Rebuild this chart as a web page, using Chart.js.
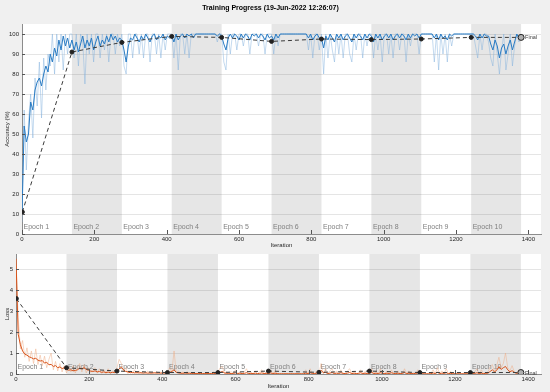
<!DOCTYPE html>
<html>
<head>
<meta charset="utf-8">
<script src="https://cdn.jsdelivr.net/npm/chart.js@4"></script>
<style>
html, body { margin: 0; padding: 0; background: #f0f0f0; }
#wrap { position: relative; width: 550px; height: 392px; overflow: hidden; }
.box { position: absolute; left: 0; width: 550px; }
</style>
</head>
<body>
<div id="wrap">
  <div class="box" style="top:0;height:250px"><canvas id="accChart" width="550" height="250"></canvas></div>
  <div class="box" style="top:247px;height:145px"><canvas id="lossChart" width="550" height="145"></canvas></div>
</div>
<script>
// training iterations are logged every 6 iterations (0..1380)
const STEP = 6;
const epochEdges = [0, 138, 276, 414, 552, 690, 828, 966, 1104, 1242, 1380];
const epochNames = ['Epoch 1','Epoch 2','Epoch 3','Epoch 4','Epoch 5','Epoch 6','Epoch 7','Epoch 8','Epoch 9','Epoch 10'];
const iterTicks = [0, 200, 400, 600, 800, 1000, 1200, 1400];

const accSmooth = [
  10,54,46,50,66,62,72,76,78,74,80,84,81,90,86,93,89,97,92,99,94,98,93,
  97,92,96,91,95,99,93,97,94,98,92,96,99,94,97,95,99,96,100,97,99,96,98,
  97,92,86,94,98,97,100,98,96,99,97,100,98,96,99,100,97,99,98,100,97,99,98,
  99,96,100,97,99,100,98,100,99,100,98,100,100,100,100,100,100,100,100,100,100,99,100,
  99,95,92,98,100,98,100,99,97,100,98,100,99,97,100,99,100,98,100,99,97,100,98,
  99,97,100,98,100,100,100,100,100,100,100,100,100,100,100,100,100,98,100,97,99,100,98,
  98,93,99,97,100,98,96,100,98,100,97,99,100,98,96,100,98,100,99,97,100,98,100,
  99,96,100,98,100,97,99,100,98,100,97,99,100,98,100,99,97,100,98,100,99,100,98,
  100,100,100,100,100,100,98,100,97,100,98,99,97,100,99,100,100,100,100,100,100,100,100,
  100,100,99,97,100,98,100,99,99,95,92,97,94,88,93,95,90,94,97,92,96,100,98,99
];
const accRaw = [
  6,62,32,56,70,48,78,64,86,58,88,72,90,84,100,80,100,86,100,82,100,90,100,
  100,88,100,84,100,96,75,100,90,100,86,100,100,88,100,92,100,86,100,100,90,100,94,
  100,84,80,100,100,88,100,100,90,100,88,100,100,86,100,100,90,100,88,100,92,100,100,
  100,88,100,82,100,100,90,100,88,100,100,100,100,100,100,100,100,100,100,100,100,96,100,
  100,86,82,100,90,100,100,92,100,100,94,100,100,90,100,100,100,94,100,100,90,100,100,
  100,90,100,94,100,100,100,100,100,100,100,100,100,100,100,100,100,92,100,88,100,100,92,
  100,80,100,88,100,92,86,100,90,100,88,100,100,90,86,100,92,100,100,88,100,94,100,
  100,88,100,92,100,86,100,100,90,100,88,100,100,92,100,100,86,100,94,100,100,100,90,
  100,100,100,100,100,100,86,100,82,100,90,100,86,100,94,100,100,100,100,100,100,100,100,
  100,100,94,88,100,92,100,100,96,88,84,100,90,80,92,100,82,90,100,84,94,100,96,100
];
const lossSmooth = [
  5.5,1.9,1.4,1.1,0.95,0.9,0.82,0.78,0.72,0.75,0.66,0.62,0.64,0.52,0.56,0.44,0.46,0.36,0.4,0.3,0.34,0.26,0.3,
  0.22,0.18,0.2,0.15,0.17,0.2,0.28,0.25,0.3,0.22,0.18,0.14,0.12,0.15,0.1,0.12,0.08,0.1,0.07,0.09,0.06,0.08,0.07,
  0.1,0.25,0.32,0.2,0.12,0.1,0.06,0.08,0.05,0.07,0.05,0.06,0.04,0.06,0.04,0.05,0.04,0.06,0.04,0.05,0.04,0.05,0.04,
  0.04,0.08,0.12,0.2,0.08,0.05,0.04,0.03,0.05,0.03,0.04,0.02,0.02,0.02,0.02,0.02,0.02,0.02,0.02,0.02,0.02,0.03,0.02,
  0.03,0.08,0.12,0.05,0.03,0.04,0.02,0.03,0.05,0.02,0.04,0.02,0.03,0.06,0.02,0.03,0.02,0.04,0.02,0.03,0.05,0.02,0.03,
  0.02,0.05,0.02,0.04,0.02,0.01,0.01,0.01,0.01,0.01,0.01,0.01,0.01,0.01,0.01,0.01,0.01,0.04,0.02,0.06,0.03,0.02,0.04,
  0.05,0.18,0.06,0.08,0.02,0.04,0.07,0.02,0.04,0.02,0.06,0.03,0.02,0.04,0.07,0.02,0.04,0.02,0.03,0.06,0.02,0.04,0.02,
  0.03,0.08,0.02,0.04,0.02,0.06,0.03,0.02,0.04,0.02,0.06,0.03,0.02,0.04,0.02,0.03,0.07,0.02,0.04,0.02,0.03,0.02,0.05,
  0.02,0.01,0.01,0.01,0.01,0.01,0.05,0.02,0.08,0.02,0.04,0.03,0.06,0.02,0.03,0.01,0.01,0.01,0.01,0.01,0.01,0.01,0.01,
  0.01,0.01,0.03,0.06,0.02,0.04,0.02,0.03,0.04,0.12,0.2,0.1,0.18,0.35,0.22,0.3,0.36,0.2,0.1,0.16,0.08,0.03,0.06,0.04
];
const lossRaw = [
  5.5,2.7,1.2,1.6,0.8,1.25,0.6,1.1,0.5,1.2,0.45,0.9,0.4,0.85,0.3,0.7,1.0,0.2,0.6,0.15,0.5,0.1,0.4,
  0.05,0.35,0.1,0.4,0.05,0.3,0.5,0.1,0.45,0.05,0.3,0.08,0.2,0.3,0.04,0.25,0.03,0.2,0.02,0.25,0.02,0.15,0.05,
  0.3,0.7,0.5,0.1,0.3,0.02,0.15,0.02,0.2,0.01,0.15,0.02,0.12,0.01,0.15,0.02,0.1,0.01,0.12,0.02,0.1,0.01,0.1,
  0.02,0.3,0.1,1.1,0.05,0.15,0.01,0.1,0.02,0.12,0.01,0.05,0.01,0.01,0.02,0.01,0.01,0.02,0.01,0.01,0.01,0.1,0.01,
  0.1,0.3,0.35,0.02,0.1,0.01,0.12,0.01,0.2,0.01,0.1,0.01,0.1,0.25,0.01,0.1,0.01,0.15,0.01,0.1,0.2,0.01,0.1,
  0.01,0.2,0.01,0.15,0.01,0.01,0.01,0.01,0.01,0.01,0.01,0.01,0.01,0.01,0.01,0.01,0.01,0.2,0.01,0.25,0.01,0.01,0.15,
  0.01,0.5,0.02,0.25,0.01,0.15,0.25,0.01,0.15,0.01,0.2,0.01,0.01,0.15,0.25,0.01,0.15,0.01,0.01,0.2,0.01,0.12,0.01,
  0.01,0.25,0.01,0.15,0.01,0.25,0.01,0.01,0.15,0.01,0.2,0.01,0.01,0.15,0.01,0.01,0.25,0.01,0.15,0.01,0.01,0.01,0.2,
  0.01,0.01,0.01,0.01,0.01,0.01,0.2,0.01,0.3,0.01,0.15,0.01,0.25,0.01,0.12,0.01,0.01,0.01,0.01,0.01,0.01,0.01,0.01,
  0.01,0.01,0.12,0.25,0.01,0.2,0.01,0.05,0.1,0.35,0.45,0.1,0.4,0.8,0.3,0.5,1.0,0.3,0.15,0.4,0.1,0.01,0.2,0.05
];

const valIters = [1, 138, 276, 414, 552, 690, 828, 966, 1104, 1242, 1380];
const valAcc = [11, 91, 95.8, 98.8, 98.3, 96.3, 97.5, 97.2, 97.5, 98.3, 98.3];
const valLoss = [3.6, 0.3, 0.14, 0.07, 0.07, 0.14, 0.08, 0.14, 0.07, 0.07, 0.07];

const FONT = 'Liberation Sans, Arial, Helvetica, sans-serif';
const XMAX = 1435;

function pts(ys) { return ys.map((y, i) => ({ x: i * STEP, y })); }
function valPts(ys) { return ys.map((y, i) => ({ x: valIters[i], y })); }

// white axes background, grey bands for every other epoch, epoch labels, inward ticks, "Final"
const epochPlugin = {
  id: 'epochs',
  beforeDraw(chart) {
    const { ctx, chartArea: a, scales: { x } } = chart;
    ctx.save();
    ctx.fillStyle = '#ffffff';
    ctx.fillRect(a.left, a.top, a.right - a.left, a.bottom - a.top);
    ctx.fillStyle = '#e6e6e6';
    for (let e = 1; e < epochEdges.length - 1; e += 2) {
      const x0 = x.getPixelForValue(epochEdges[e]);
      const x1 = x.getPixelForValue(epochEdges[e + 1]);
      ctx.fillRect(x0, a.top, x1 - x0, a.bottom - a.top);
    }
    ctx.restore();
  },
  beforeDatasetsDraw(chart) {
    const { ctx, chartArea: a, scales: { x } } = chart;
    ctx.save();
    ctx.font = '7px ' + FONT;
    ctx.fillStyle = '#808080';
    ctx.textBaseline = 'alphabetic';
    epochNames.forEach((n, i) => {
      ctx.fillText(n, x.getPixelForValue(epochEdges[i]) + 1.5, a.bottom - 5);
    });
    ctx.restore();
  },
  afterDraw(chart) {
    const { ctx, chartArea: a, scales: { x, y } } = chart;
    ctx.save();
    ctx.strokeStyle = '#555';
    ctx.lineWidth = 1;
    ctx.beginPath();
    x.ticks.forEach(t => {
      const px = Math.round(x.getPixelForValue(t.value)) + 0.5;
      ctx.moveTo(px, a.bottom); ctx.lineTo(px, a.bottom - 4);
    });
    y.ticks.forEach(t => {
      const py = Math.round(y.getPixelForValue(t.value)) + 0.5;
      ctx.moveTo(a.left, py); ctx.lineTo(a.left + 3, py);
    });
    ctx.stroke();
    const last = chart.data.datasets[0].data.slice(-1)[0];
    ctx.font = '5.5px ' + FONT;
    ctx.fillStyle = '#404040';
    ctx.textBaseline = 'middle';
    ctx.fillText('Final', x.getPixelForValue(last.x) + 4, y.getPixelForValue(last.y) + 0.5);
    ctx.restore();
  }
};

function makeOpts(cfg) {
  return {
    responsive: false,
    animation: false,
    events: [],
    layout: { padding: { left: 0, right: 9, top: cfg.padTop, bottom: 0 } },
    plugins: {
      legend: { display: false },
      tooltip: { enabled: false },
      title: cfg.title ? {
        display: true, text: cfg.title, color: '#000',
        font: { family: FONT, size: 7, weight: 'bold' },
        padding: { top: 4, bottom: 11.6 }
      } : { display: false }
    },
    scales: {
      x: {
        type: 'linear', min: 0, max: XMAX,
        afterBuildTicks(s) { s.ticks = iterTicks.map(v => ({ value: v })); },
        afterFit(s) { s.height = cfg.xh; },
        ticks: { padding: 2, color: '#262626', font: { family: FONT, size: 6 }, maxRotation: 0, autoSkip: false,
                 callback: v => String(v) },
        grid: { display: false, drawTicks: false },
        border: { display: true, color: '#8c8c8c' },
        title: { display: true, text: 'Iteration', color: '#262626', font: { family: FONT, size: 6 }, padding: { top: 0, bottom: cfg.xtPad } }
      },
      y: {
        min: 0, max: cfg.ymax,
        afterFit(s) { s.width = cfg.yw; },
        ticks: { stepSize: cfg.ystep, includeBounds: false, padding: 3, color: '#262626', font: { family: FONT, size: 6 } },
        grid: { color: 'rgba(38,38,38,0.12)', drawTicks: false },
        border: { display: true, color: '#8c8c8c' },
        title: { display: true, text: cfg.ytitle, color: '#262626', font: { family: FONT, size: 6 }, padding: { top: 4, bottom: 0 } }
      }
    }
  };
}

function lineSet(data, color, width, order) {
  return { data, borderColor: color, borderWidth: width, pointRadius: 0, tension: 0, fill: false, order };
}
function valSet(data) {
  const n = data.length;
  return {
    data, borderColor: '#3a3a3a', borderWidth: 1, borderDash: [4, 3], tension: 0, order: 0,
    pointRadius: data.map((_, i) => i === n - 1 ? 3 : 2),
    pointBackgroundColor: data.map((_, i) => i === n - 1 ? '#b0b0b0' : '#222'),
    pointBorderColor: '#222', pointBorderWidth: 1
  };
}

new Chart(document.getElementById('accChart'), {
  type: 'line',
  data: { datasets: [
    valSet(valPts(valAcc)),
    lineSet(pts(accSmooth), '#2a7cc4', 1, 1),
    lineSet(pts(accRaw), 'rgba(130,178,222,0.6)', 0.8, 2)
  ] },
  options: makeOpts({ title: 'Training Progress (19-Jun-2022 12:26:07)', padTop: 0, xh: 16, yw: 22, xtPad: 1, ymax: 105, ystep: 10, ytitle: 'Accuracy (%)' }),
  plugins: [epochPlugin]
});

new Chart(document.getElementById('lossChart'), {
  type: 'line',
  data: { datasets: [
    valSet(valPts(valLoss)),
    lineSet(pts(lossSmooth), '#d95319', 1, 1),
    lineSet(pts(lossRaw), 'rgba(238,170,130,0.6)', 0.8, 2)
  ] },
  options: makeOpts({ title: null, padTop: 7, xh: 18, yw: 16, xtPad: 2.4, ymax: 5.73, ystep: 1, ytitle: 'Loss' }),
  plugins: [epochPlugin]
});
</script>
</body>
</html>
